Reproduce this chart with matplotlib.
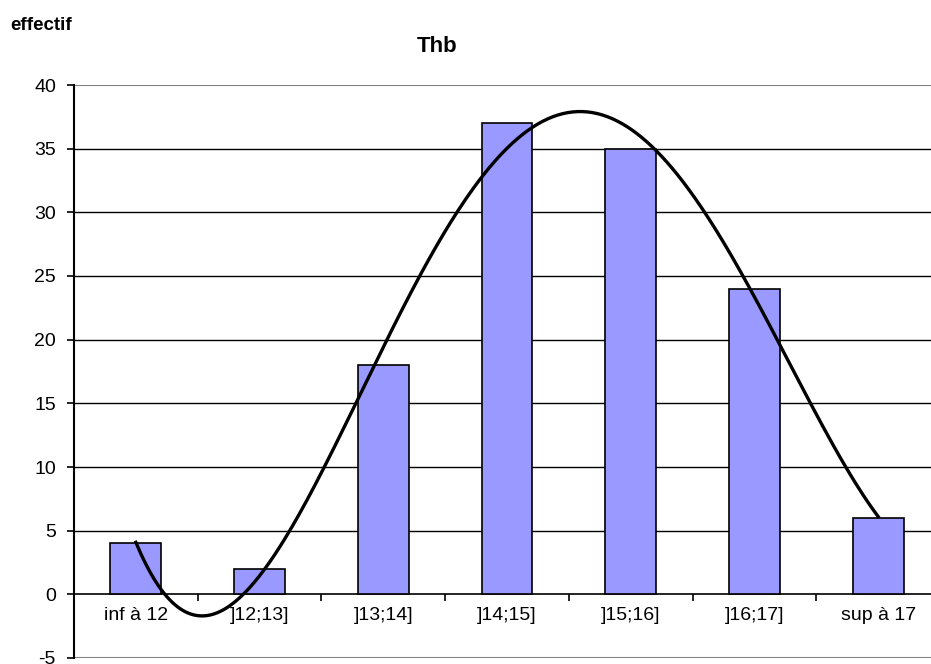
import numpy as np
import matplotlib.pyplot as plt

plt.rcParams['font.family'] = ['Liberation Sans', 'DejaVu Sans']
plt.rcParams['axes.unicode_minus'] = False

categories = ['inf à 12', ']12;13]', ']13;14]', ']14;15]', ']15;16]', ']16;17]', 'sup à 17']
effectif = [4, 2, 18, 37, 35, 24, 6]
y_ticks = [-5, 0, 5, 10, 15, 20, 25, 30, 35, 40]

fig = plt.figure(figsize=(9.31, 6.64), dpi=100)
ax = fig.add_axes([74 / 931, 1 - 658 / 664, 866 / 931, 573 / 664])

x = np.arange(len(categories))
ax.bar(x, effectif, width=0.41, color='#9999FF', edgecolor='black', linewidth=1.2, zorder=3)

# polynomial trend line (order 4), like the spreadsheet trendline
coef = np.polyfit(x, effectif, 4)
xs = np.linspace(0, len(categories) - 1, 300)
ax.plot(xs, np.polyval(coef, xs), color='black', linewidth=2.4, zorder=4)

ax.set_xlim(-0.5, len(categories) - 0.5)
ax.set_ylim(-5, 40)

for v in y_ticks[2:-1]:
    ax.axhline(v, color='black', linewidth=1.0, zorder=1)
ax.axhline(40, color='#808080', linewidth=1.5, zorder=1)
ax.axhline(-5, color='#808080', linewidth=1.5, zorder=1)

ax.spines['bottom'].set_position(('data', 0))
ax.spines['bottom'].set_linewidth(1.2)
ax.spines['left'].set_linewidth(1.5)
ax.spines['top'].set_visible(False)
ax.spines['right'].set_visible(False)

ax.set_xticks(x)
ax.set_xticklabels(categories, fontsize=14)
ax.set_xticks(x[:-1] + 0.5, minor=True)
ax.tick_params(axis='x', which='major', length=0, pad=9)
ax.tick_params(axis='x', which='minor', direction='out', length=5, width=1.2)

ax.set_yticks(y_ticks)
ax.tick_params(axis='y', direction='out', length=5, width=1.2, pad=8, labelsize=14)

fig.text(437 / 931, 1 - 46 / 664, 'Thb', ha='center', va='center', fontsize=16, fontweight='bold')
fig.text(10 / 931, 1 - 26 / 664, 'effectif', ha='left', va='center', fontsize=13.5, fontweight='bold')

fig.savefig('out.png', dpi=100)
